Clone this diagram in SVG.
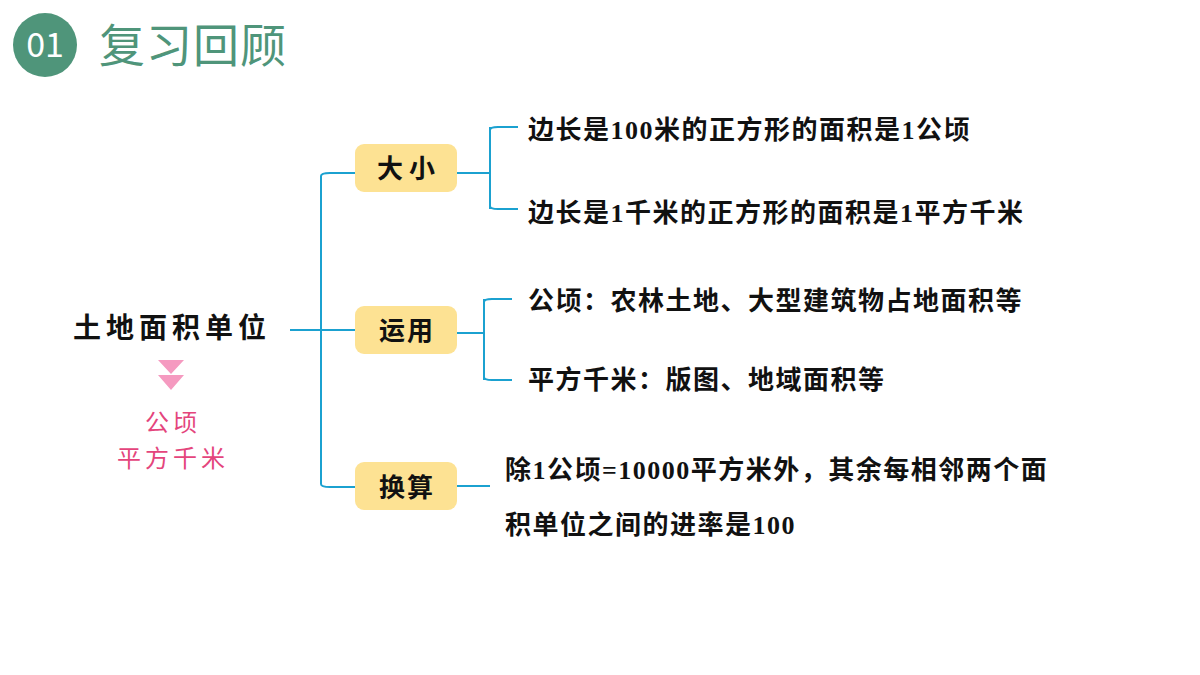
<svg xmlns="http://www.w3.org/2000/svg" width="1200" height="675" viewBox="0 0 1200 675">
<style>
.c{fill:none;stroke:#1ba1d0;stroke-width:2}
.box{fill:#fde293}
.bt{font-family:"Noto Sans CJK SC",sans-serif;font-size:26px;font-weight:bold;fill:#111;text-anchor:middle}
.lf{font-family:"Liberation Serif","Noto Sans CJK SC",serif;font-size:26px;font-weight:bold;fill:#111;letter-spacing:1.5px}
.pk{font-family:"Noto Sans CJK SC",sans-serif;font-size:24px;fill:#e4457c;text-anchor:middle;letter-spacing:4px}
</style>
<rect width="1200" height="675" fill="#fff"/>
<g id="title">
<circle cx="45" cy="45" r="32" fill="#4f957a"/>
<text x="45" y="57" font-family="Noto Sans CJK SC,sans-serif" font-size="34" fill="#fff" text-anchor="middle">01</text>
<text x="99" y="62" font-family="Noto Sans CJK SC,sans-serif" font-size="46" fill="#4f957a" letter-spacing="1">复习回顾</text>
</g>
<g id="connectors">
<path class="c" d="M290 330H355M321 176V484M321 176Q321 173 330 173H355M321 484Q321 487 330 487H355"/>
<path class="c" d="M457 173H490M490 127V209M490 130Q490 127 498 127H518M490 206Q490 209 498 209H518"/>
<path class="c" d="M457 333H484M484 299V380M484 302Q484 299 492 299H512M484 377Q484 380 492 380H512"/>
<path class="c" d="M457 486H490"/>
</g>
<g id="root">
<text x="73" y="338" font-family="Noto Sans CJK SC,sans-serif" font-size="28" font-weight="bold" fill="#111" letter-spacing="5">土地面积单位</text>
<path d="M158 360H184L171 374Z M158 375H184L171 390Z" fill="#f59ac0"/>
<text class="pk" x="173" y="431">公顷</text>
<text class="pk" x="173" y="467">平方千米</text>
</g>
<g id="n1"><rect class="box" x="355" y="144" width="102" height="48" rx="9"/><text class="bt" x="409" y="178" letter-spacing="6">大小</text></g>
<g id="n2"><rect class="box" x="355" y="306" width="102" height="48" rx="9"/><text class="bt" x="407" y="340" letter-spacing="2">运用</text></g>
<g id="n3"><rect class="box" x="355" y="462" width="102" height="48" rx="9"/><text class="bt" x="407" y="497" letter-spacing="2">换算</text></g>
<g id="leaves">
<text class="lf" x="528" y="139">边长是100米的正方形的面积是1公顷</text>
<text class="lf" x="528" y="222">边长是1千米的正方形的面积是1平方千米</text>
<text class="lf" x="528" y="310">公顷：农林土地、大型建筑物占地面积等</text>
<text class="lf" x="528" y="389">平方千米：版图、地域面积等</text>
<text class="lf" x="505" y="479">除1公顷=10000平方米外，其余每相邻两个面</text>
<text class="lf" x="505" y="534">积单位之间的进率是100</text>
</g>
</svg>
